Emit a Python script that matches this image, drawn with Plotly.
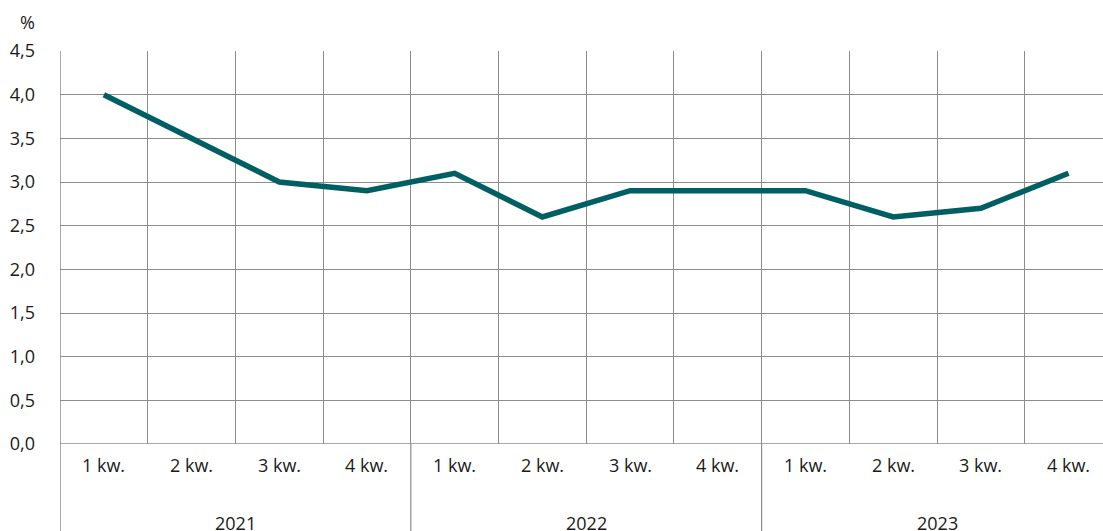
import plotly.graph_objects as go

quarters = ["1 kw.", "2 kw.", "3 kw.", "4 kw."] * 3
years = ["2021", "2022", "2023"]
values = [4.0, 3.5, 3.0, 2.9, 3.1, 2.6, 2.9, 2.9, 2.9, 2.6, 2.7, 3.1]
y_ticks = [0, 0.5, 1.0, 1.5, 2.0, 2.5, 3.0, 3.5, 4.0, 4.5]

x_idx = list(range(len(values)))
grid_col = "#8c8c8c"
font_fam = "Open Sans, Liberation Sans, sans-serif"
txt_col = "#1a1a1a"
fs = 18

fig = go.Figure()
fig.add_trace(go.Scatter(
    x=x_idx, y=values, mode="lines",
    line=dict(color="#005f63", width=5.5, shape="linear"),
    hoverinfo="skip", showlegend=False,
))

W, H = 1103, 531
ml, mt, mb = 60, 51, 87
cat_w = 87.7
plot_h = H - mt - mb
x_end = -0.5 + (W - ml) / cat_w

fig.update_layout(
    width=W, height=H,
    margin=dict(l=ml, r=0, t=mt, b=mb, pad=0),
    paper_bgcolor="white", plot_bgcolor="white",
    separators=", ",
    font=dict(family=font_fam, size=fs, color=txt_col),
    xaxis=dict(
        range=[-0.5, x_end], showticklabels=False, ticks="",
        tickmode="linear", tick0=0.5, dtick=1,
        showgrid=True, gridcolor=grid_col, gridwidth=1,
        zeroline=False, showline=False, fixedrange=True,
    ),
    yaxis=dict(
        range=[0, 4.5], tickmode="array", tickvals=y_ticks,
        tickformat=".1f", showgrid=True, gridcolor=grid_col, gridwidth=1.2,
        zeroline=False, showline=False, ticks="", ticklabelstandoff=24,
        tickfont=dict(size=fs, color=txt_col), fixedrange=True,
    ),
)

bottom = -mb / plot_h
shapes = [
    dict(type="line", xref="x", yref="paper", x0=-0.5, x1=-0.5, y0=bottom, y1=1,
         line=dict(color=grid_col, width=1.5)),
    dict(type="line", xref="paper", yref="y", x0=0, x1=1, y0=0, y1=0,
         line=dict(color=grid_col, width=1.5)),
]
for k in range(1, len(years)):
    xs = 4 * k - 0.5
    shapes.append(dict(type="line", xref="x", yref="paper", x0=xs, x1=xs,
                       y0=bottom, y1=0, line=dict(color=grid_col, width=1.2)))
fig.update_layout(shapes=shapes)

annotations = []
for i, q in enumerate(quarters):
    annotations.append(dict(x=i, y=-21 / plot_h, xref="x", yref="paper",
                            text=q, showarrow=False, xanchor="center", yanchor="middle",
                            font=dict(size=fs, color=txt_col)))
for j, yr in enumerate(years):
    annotations.append(dict(x=4 * j + 1.5, y=-79 / plot_h, xref="x", yref="paper",
                            text=yr, showarrow=False, xanchor="center", yanchor="middle",
                            font=dict(size=fs, color=txt_col)))
annotations.append(dict(x=(27 - ml) / (W - ml), y=(plot_h + mt - 22) / plot_h,
                        xref="paper", yref="paper", text="%", showarrow=False,
                        xanchor="center", yanchor="middle",
                        font=dict(size=fs, color=txt_col)))
fig.update_layout(annotations=annotations)

fig.write_html("out.html")
